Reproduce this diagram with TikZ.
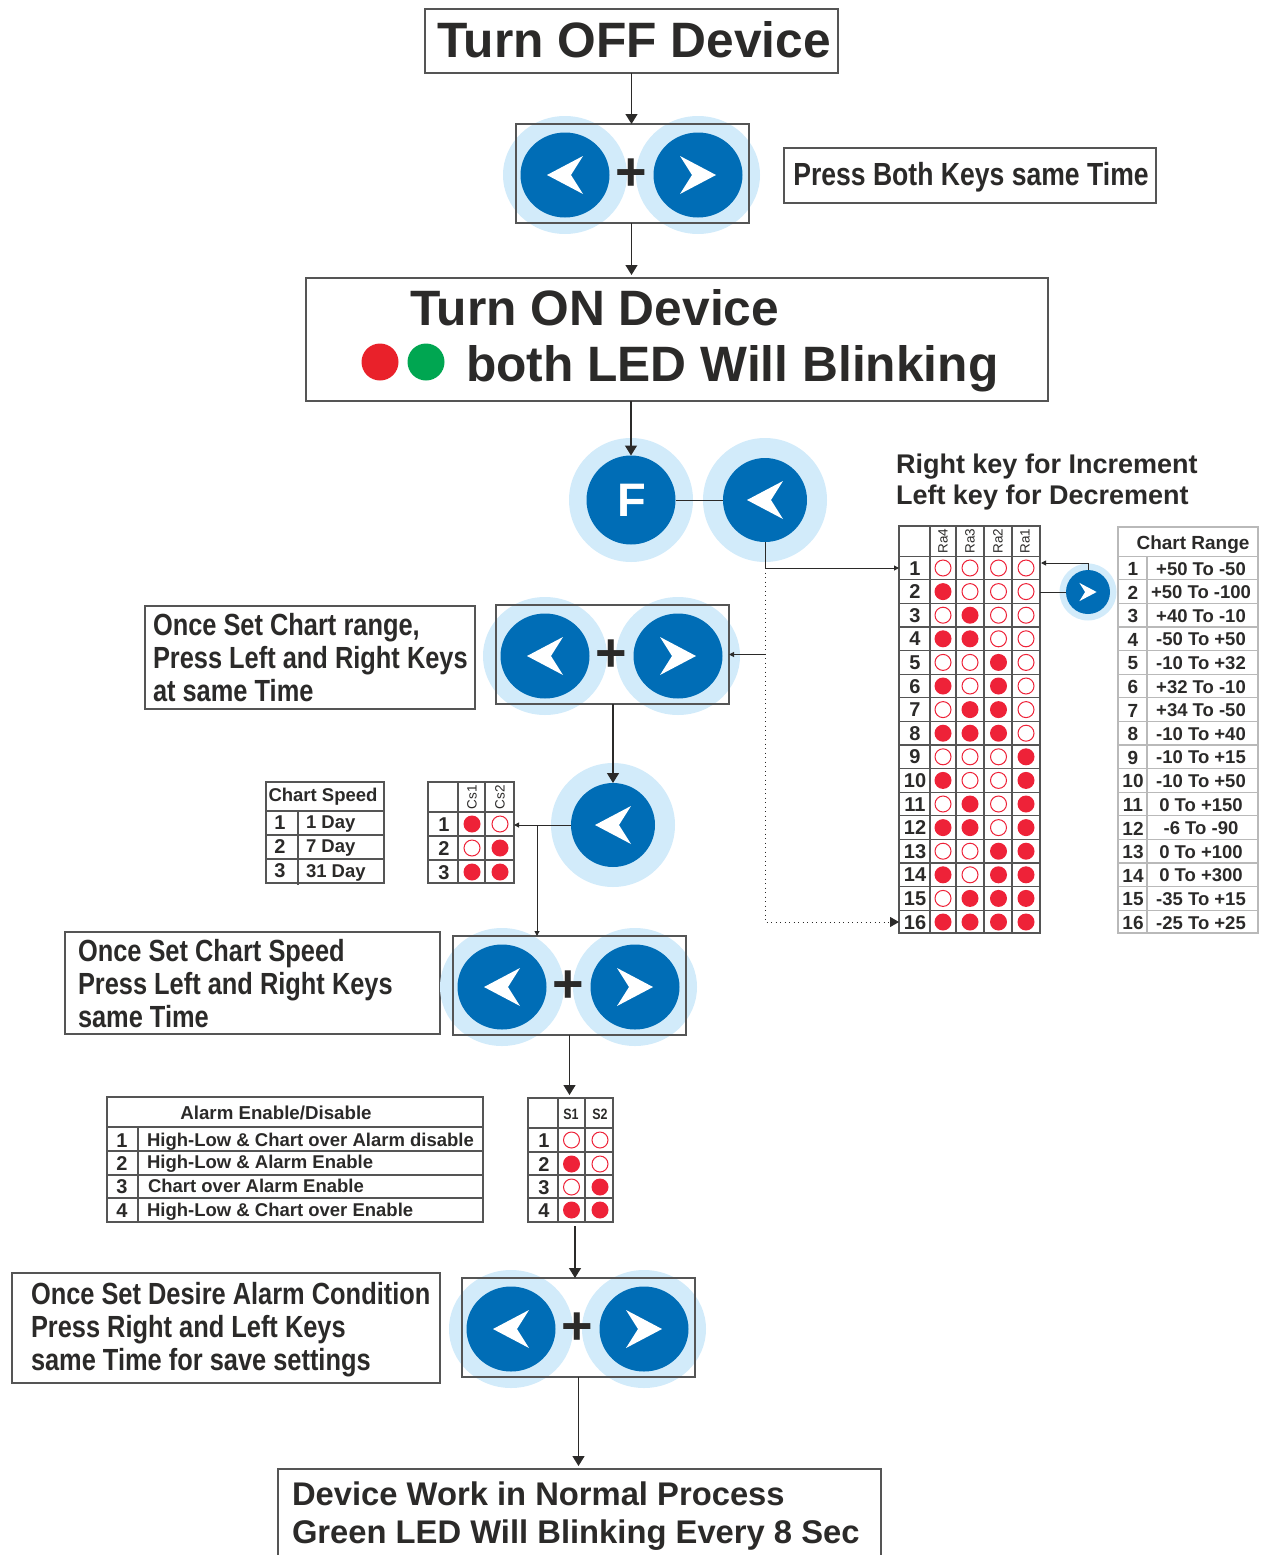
\documentclass[tikz,border=0pt]{standalone}
\usepackage{fontspec}
\setmainfont{Liberation Sans}
\newfontfamily\condfont[FakeStretch=0.83]{Liberation Sans}
\usetikzlibrary{arrows.meta,shapes.geometric}
\definecolor{keyblue}{HTML}{006DB6}
\definecolor{keyhalo}{HTML}{D2EBFA}
\definecolor{ledred}{HTML}{EE2238}
\definecolor{bigred}{HTML}{E9212A}
\definecolor{ledgreen}{HTML}{00A651}
\definecolor{inkdark}{HTML}{2B2A29}
\definecolor{framegray}{HTML}{555555}
\definecolor{gridgray}{HTML}{B9B9B9}
\tikzset{
  halo/.style={circle, fill=keyhalo, minimum size=124pt},
  key/.style={circle, fill=keyblue, minimum size=89pt},
  pairhalo/.style={ellipse, fill=keyhalo, minimum width=124pt, minimum height=118pt},
  pairkey/.style={ellipse, fill=keyblue, minimum width=89pt, minimum height=85pt},
  keybox/.style={draw=framegray, line width=1.5pt, minimum width=233pt, minimum height=99pt},
  txtbox/.style={draw=framegray, line width=1.2pt, anchor=north west},
  led0/.style={circle, draw=ledred, fill=white, line width=1pt, minimum size=16pt},
  led1/.style={circle, fill=ledred, minimum size=17pt},
  bigtext/.style={font=\bfseries\fontsize{49.7}{55}\selectfont, anchor=base west},
  condtext/.style={font=\condfont\bfseries\fontsize{30.6}{33}\selectfont, align=left, anchor=west},
  midtext/.style={font=\bfseries\fontsize{32.75}{38}\selectfont, align=left, anchor=west},
  notetext/.style={font=\bfseries\fontsize{27}{31}\selectfont, align=left, anchor=west},
  cellnum/.style={font=\bfseries\fontsize{20}{20}\selectfont, anchor=base},
  celltext/.style={font=\bfseries\fontsize{18.5}{20}\selectfont, anchor=base},
  sidehead/.style={font=\fontsize{13.5}{14}\selectfont, rotate=90},
  gridline/.style={draw=framegray, line width=1.2pt},
  lightgrid/.style={draw=gridgray, line width=1.2pt},
  flow/.style={draw=inkdark, line width=1.3pt, -{Triangle[length=10pt,width=12pt]}},
  smallflow/.style={draw=inkdark, line width=1pt, -{Triangle[length=5pt,width=5pt]}},
  plainflow/.style={draw=inkdark, line width=1pt},
  pics/keyarrow/.style={code={\fill[white] (-18,0) -- (18,-19) -- (6,0) -- (18,19) -- cycle;}},
}
\begin{document}
\begin{tikzpicture}[x=1pt, y=-1pt, every node/.style={text=inkdark, inner sep=0pt, outer sep=0pt}]
    \useasboundingbox (0,0) rectangle (1262,1555);
    % --- pola z tekstem ---
    \node[txtbox, minimum width=413pt, minimum height=64pt] (off) at (425,9) {};
    \node[bigtext] (offtext) at (437,58) {Turn OFF Device};
    \node[txtbox, minimum width=372pt, minimum height=55pt] (press) at (784,148) {};
    \node[font=\condfont\bfseries\fontsize{32}{33}\selectfont] (presstext) at (971,177) {Press Both Keys same Time};
    \node[txtbox, minimum width=742pt, minimum height=123pt] (on) at (306,278) {};
    \node[bigtext] (ontext) at (410,325) {Turn ON Device};
    \node[bigtext] (blinktext) at (466,381) {both LED Will Blinking};
    \node[circle, fill=bigred, minimum size=37pt] (redled) at (380,362) {};
    \node[circle, fill=ledgreen, minimum size=37pt] (greenled) at (426,362) {};
    \node[txtbox, minimum width=330pt, minimum height=103pt] (rangebox) at (145,606) {};
    \node[condtext] (rangetext) at (153,658) {Once Set Chart range,\\Press Left and Right Keys\\at same Time};
    \node[txtbox, minimum width=375pt, minimum height=102pt] (speedbox) at (65,932) {};
    \node[condtext] (speedtext) at (78,984) {Once Set Chart Speed\\Press Left and Right Keys\\same Time};
    \node[txtbox, minimum width=428pt, minimum height=110pt] (alarmbox) at (12,1273) {};
    \node[condtext] (alarmtext) at (31,1330) {Once Set Desire Alarm Condition\\Press Right and Left Keys\\same Time for save settings};
    \node[txtbox, minimum width=603pt, minimum height=95pt] (device) at (278,1469) {};
    \node[midtext] (devicetext) at (292,1516) {Device Work in Normal Process\\Green LED Will Blinking Every 8 Sec};
    \node[notetext] (notetext) at (896,482) {Right key for Increment\\Left key for Decrement};
    % --- pary klawiszy ---
    \foreach \name/\bx/\by in {pairone/516/124, pairtwo/496/605, pairthree/453/936, pairfour/462/1278} {
      \node[pairhalo] (\name halol) at (\bx+49,\by+51) {};
      \node[pairhalo] (\name halor) at (\bx+182,\by+51) {};
      \node[keybox, anchor=north west] (\name) at (\bx,\by) {};
      \node[pairkey] (\name left) at (\bx+49,\by+51) {};
      \node[pairkey] (\name right) at (\bx+182,\by+51) {};
      \pic at (\name left) {keyarrow};
      \pic[xscale=-1] at (\name right) {keyarrow};
      \node[font=\bfseries\fontsize{54}{54}\selectfont] (\name plus) at (\bx+115,\by+51) {+};
    }
    % --- klawisze pojedyncze ---
    \node[halo] (fhalo) at (631,500) {};
    \node[key] (fkey) at (631,500) {};
    \node[font=\bfseries\fontsize{47}{47}\selectfont, text=white] (ftext) at (632,500) {F};
    \node[halo] (lhalo) at (765,500) {};
    \node[key, minimum size=84pt] (lkey) at (765,500) {};
    \pic at (lkey) {keyarrow};
    \node[halo] (speedhalo) at (613,825) {};
    \node[key, minimum size=84pt] (speedkey) at (613,825) {};
    \pic at (speedkey) {keyarrow};
    \node[halo, minimum size=57pt] (rhalo) at (1088,592) {};
    \node[key, minimum size=44pt] (rkey) at (1088,592) {};
    \pic[scale=.48, xscale=-1] at (rkey) {keyarrow};
    % --- tabela Ra ---
    \node[gridline, draw, anchor=north west, minimum width=141pt, minimum height=407pt] (ratable) at (899,526) {};
    \foreach \x in {930,956,984,1012} {
      \draw[gridline] (\x,526) -- (\x,933);
    }
    \foreach \cx/\lab in {943/Ra4,970/Ra3,998/Ra2,1025/Ra1} {
      \node[sidehead] (\lab) at (\cx,541) {\lab};
    }
    \foreach \row in {1,...,16} {
      \pgfmathsetmacro\rowy{568+23.6*(\row-1)}
      \draw[gridline] (899,\rowy-11.8) -- (1040,\rowy-11.8);
      \node[cellnum] (ranum\row) at (915,\rowy+7) {\row};
      \foreach \cx/\w in {943/1,970/2,998.5/4,1026/8} {
        \pgfmathtruncatemacro\bit{mod(int((\row-1)/\w),2)}
        \node[led\bit] (ra\row-\w) at (\cx,\rowy) {};
      }
    }
    % --- tabela Chart Range ---
    \node[lightgrid, draw, anchor=north west, minimum width=140pt, minimum height=406pt] (rangetable) at (1118,527) {};
    \draw[lightgrid] (1147,557) -- (1147,933);
    \node[celltext, font=\bfseries\fontsize{19}{20}\selectfont] (rangehead) at (1193,549) {Chart Range};
    \foreach \row/\val in {1/+50 To -50,2/+50 To -100,3/+40 To -10,4/-50 To +50,5/-10 To +32,6/+32 To -10,7/+34 To -50,8/-10 To +40,9/-10 To +15,10/-10 To +50,11/0 To +150,12/-6 To -90,13/0 To +100,14/0 To +300,15/-35 To +15,16/-25 To +25} {
      \pgfmathsetmacro\rowy{568+23.6*(\row-1)}
      \draw[lightgrid] (1118,\rowy-11.8) -- (1258,\rowy-11.8);
      \node[cellnum, font=\bfseries\fontsize{19}{20}\selectfont] (rngnum\row) at (1133,\rowy+7.5) {\row};
      \node[celltext] (rngval\row) at (1201,\rowy+7) {\val};
    }
    % --- tabela Chart Speed ---
    \node[gridline, draw, anchor=north west, minimum width=118pt, minimum height=101pt] (speedtable) at (266,782) {};
    \draw[gridline] (266,811) -- (384,811);
    \draw[gridline] (266,835) -- (384,835);
    \draw[gridline] (266,859) -- (384,859);
    \draw[gridline] (298,811) -- (298,885);
    \node[celltext] (speedhead) at (323,801) {Chart Speed};
    \foreach \row/\by/\ty/\val in {1/829/828/1 Day,2/853/852/7 Day,3/877/877/31 Day} {
      \node[cellnum] (spnum\row) at (280,\by) {\row};
      \node[celltext, anchor=base west] (spval\row) at (306,\ty) {\val};
    }
    % --- tabela Cs ---
    \node[gridline, draw, anchor=north west, minimum width=86pt, minimum height=101pt] (cstable) at (428,782) {};
    \draw[gridline] (458,782) -- (458,883);
    \draw[gridline] (485,782) -- (485,883);
    \draw[gridline] (428,812) -- (514,812);
    \draw[gridline] (428,836) -- (514,836);
    \draw[gridline] (428,860) -- (514,860);
    \node[sidehead] (csone) at (472,797) {Cs1};
    \node[sidehead] (cstwo) at (500,797) {Cs2};
    \foreach \row/\by/\a/\b in {1/824/1/0,2/848/0/1,3/872/1/1} {
      \node[cellnum] (csnum\row) at (444,\by+7) {\row};
      \node[led\a] (cs\row-1) at (472,\by) {};
      \node[led\b] (cs\row-2) at (500,\by) {};
    }
    % --- tabela Alarm ---
    \node[gridline, draw, anchor=north west, minimum width=376pt, minimum height=125pt] (alarmtable) at (107,1097) {};
    \draw[gridline] (138,1127) -- (138,1222);
    \node[celltext, font=\bfseries\fontsize{18.7}{20}\selectfont] (alarmhead) at (276,1119) {Alarm Enable/Disable};
    \foreach \ly in {1127,1151,1175,1198} {
      \draw[gridline] (107,\ly) -- (483,\ly);
    }
    \foreach \row/\nb/\tb/\tx/\val in {1/1147/1146/147/High-Low \& Chart over Alarm disable,2/1170/1168/147/High-Low \& Alarm Enable,3/1193/1192/148/Chart over Alarm Enable,4/1217/1216/147/High-Low \& Chart over Enable} {
      \node[cellnum] (alnum\row) at (122,\nb) {\row};
      \node[celltext, anchor=base west] (alval\row) at (\tx,\tb) {\val};
    }
    % --- tabela S ---
    \node[gridline, draw, anchor=north west, minimum width=85pt, minimum height=124pt] (stable) at (528,1098) {};
    \draw[gridline] (558,1098) -- (558,1222);
    \draw[gridline] (585,1098) -- (585,1222);
    \foreach \ly in {1128,1152,1175,1198} {
      \draw[gridline] (528,\ly) -- (613,\ly);
    }
    \node[font=\condfont\bfseries\fontsize{15}{15}\selectfont] (sone) at (571,1114) {S1};
    \node[font=\condfont\bfseries\fontsize{15}{15}\selectfont] (stwo) at (600,1114) {S2};
    \foreach \row/\by/\a/\b in {1/1140/0/0,2/1164/1/0,3/1187/0/1,4/1210/1/1} {
      \node[cellnum] (snum\row) at (544,\by+7) {\row};
      \node[led\a] (s\row-1) at (571.5,\by) {};
      \node[led\b] (s\row-2) at (600,\by) {};
    }
    % --- polaczenia ---
    \coordinate (raone) at (899,568);
    \coordinate (rasixteen) at (899,922);
    \coordinate (rangein) at (1041,563);
    \coordinate (csdrop) at (537,825);
    \coordinate (sdrop) at (575,1226);
    \draw[flow] (off.south) -- (off.south |- pairone.north);
    \draw[flow, shorten >=3pt] (off.south |- pairone.south) -- (off.south |- on.north);
    \draw[flow] (fkey |- on.south) -- (fkey.north);
    \draw[plainflow] (fkey.east) -- (lkey.west);
    \draw[smallflow] (lkey.south) |- (raone);
    \draw[smallflow] (lkey |- pairtwo.east) -- (pairtwo.east);
    \draw[draw=inkdark, line width=.9pt, dash pattern=on 1pt off 3.5pt, -{Triangle[length=9pt,width=10pt]}] (lkey |- raone) |- (rasixteen);
    \draw[smallflow] (rkey.north) |- (rangein);
    \draw[plainflow] (rkey.west) -- (ratable.east |- rkey.west);
    \draw[flow] (speedkey |- pairtwo.south) -- (speedkey.north);
    \draw[smallflow] (speedkey.west) -- (cstable.east |- speedkey.west);
    \draw[smallflow] (csdrop) -- (csdrop |- pairthree.north);
    \draw[flow, shorten >=3pt] (pairthree.south) -- (pairthree.south |- stable.north);
    \draw[flow] (sdrop) -- (sdrop |- pairfour.north);
    \draw[flow, shorten >=3pt] (pairfour.south) -- (pairfour.south |- device.north);
  \end{tikzpicture}
\end{document}
